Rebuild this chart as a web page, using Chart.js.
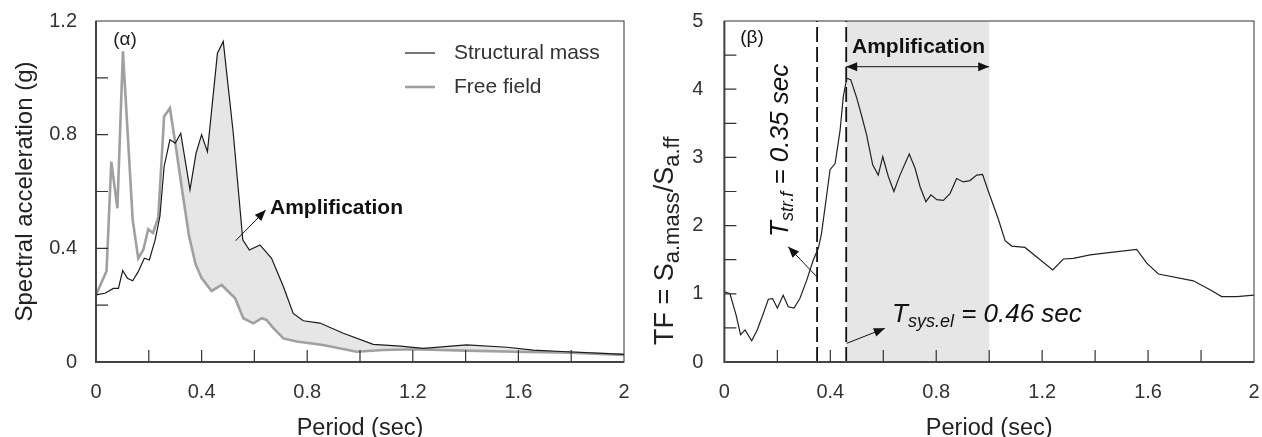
<!DOCTYPE html>
<html>
<head>
<meta charset="utf-8">
<script src="https://cdn.jsdelivr.net/npm/chart.js@4.4.1/dist/chart.umd.min.js"></script>
<style>
  body { margin: 0; background: #fff; }
  #wrap { position: relative; width: 1262px; height: 437px; }
  #left { position: absolute; left: 0; top: 0; }
  #right { position: absolute; left: 640px; top: 0; }
</style>
</head>
<body>
<div id="wrap">
  <canvas id="left" width="640" height="437"></canvas>
  <canvas id="right" width="622" height="437"></canvas>
</div>
<script>
const FONT = "'Liberation Sans', Arial, sans-serif"
Chart.defaults.font.family = FONT

// (a) spectral acceleration, period in sec, Sa in g
const massPeriod = [0.0, 0.034, 0.066, 0.085, 0.101, 0.119, 0.139, 0.160, 0.183, 0.202, 0.224, 0.242, 0.258, 0.280, 0.300, 0.321, 0.356, 0.379, 0.400, 0.422, 0.460, 0.482, 0.520, 0.556, 0.581, 0.621, 0.665, 0.710, 0.747, 0.785, 0.848, 0.937, 1.050, 1.152, 1.240, 1.404, 1.556, 1.656, 1.783, 2.0]
const massSa = [0.236, 0.242, 0.259, 0.259, 0.322, 0.295, 0.286, 0.318, 0.365, 0.359, 0.430, 0.512, 0.688, 0.782, 0.770, 0.805, 0.606, 0.735, 0.800, 0.740, 1.087, 1.128, 0.805, 0.430, 0.394, 0.412, 0.365, 0.265, 0.171, 0.145, 0.137, 0.101, 0.062, 0.056, 0.048, 0.060, 0.052, 0.042, 0.036, 0.027]
const ffPeriod = [0.0, 0.040, 0.058, 0.081, 0.102, 0.139, 0.160, 0.179, 0.198, 0.216, 0.236, 0.258, 0.280, 0.302, 0.327, 0.352, 0.377, 0.400, 0.438, 0.476, 0.527, 0.558, 0.596, 0.628, 0.646, 0.672, 0.710, 0.760, 0.860, 0.987, 1.088, 1.200, 1.400, 1.590, 1.795, 2.0]
const ffSa = [0.236, 0.320, 0.705, 0.541, 1.093, 0.500, 0.365, 0.394, 0.467, 0.454, 0.510, 0.864, 0.893, 0.760, 0.600, 0.445, 0.345, 0.295, 0.250, 0.271, 0.224, 0.154, 0.136, 0.154, 0.148, 0.119, 0.083, 0.072, 0.060, 0.036, 0.042, 0.045, 0.040, 0.036, 0.033, 0.025]

// (b) transfer function
const tfPeriod = [0.0, 0.021, 0.044, 0.061, 0.078, 0.103, 0.124, 0.147, 0.166, 0.182, 0.200, 0.222, 0.241, 0.263, 0.285, 0.311, 0.336, 0.355, 0.367, 0.384, 0.399, 0.418, 0.437, 0.449, 0.462, 0.477, 0.500, 0.519, 0.537, 0.560, 0.581, 0.598, 0.619, 0.640, 0.663, 0.698, 0.720, 0.739, 0.761, 0.780, 0.802, 0.827, 0.852, 0.877, 0.902, 0.927, 0.953, 0.975, 0.997, 1.034, 1.060, 1.085, 1.135, 1.240, 1.280, 1.318, 1.381, 1.444, 1.557, 1.595, 1.639, 1.771, 1.834, 1.878, 1.935, 2.0]
const tfValue = [1.03, 1.00, 0.69, 0.40, 0.47, 0.31, 0.47, 0.71, 0.92, 0.93, 0.79, 0.98, 0.81, 0.79, 0.93, 1.20, 1.50, 1.67, 1.89, 2.38, 2.82, 2.91, 3.40, 3.89, 4.16, 4.14, 3.87, 3.60, 3.33, 2.89, 2.74, 3.01, 2.72, 2.50, 2.74, 3.05, 2.84, 2.57, 2.35, 2.45, 2.38, 2.37, 2.47, 2.69, 2.64, 2.66, 2.74, 2.75, 2.50, 2.10, 1.78, 1.70, 1.68, 1.35, 1.51, 1.52, 1.57, 1.60, 1.65, 1.45, 1.29, 1.19, 1.06, 0.96, 0.96, 0.98]

const tStr = 0.35
const tSys = 0.46
const ampEnd = 1.0

function pts(xs, ys) { return xs.map((x, i) => ({ x: x, y: ys[i] })) }
function fmt(v) { return String(Math.round(v * 10) / 10) }

function head(ctx, x1, y1, x2, y2) {
  const a = Math.atan2(y2 - y1, x2 - x1), L = 11, W = 4.5
  ctx.beginPath()
  ctx.moveTo(x2, y2)
  ctx.lineTo(x2 - L * Math.cos(a) + W * Math.sin(a), y2 - L * Math.sin(a) - W * Math.cos(a))
  ctx.lineTo(x2 - L * Math.cos(a) - W * Math.sin(a), y2 - L * Math.sin(a) + W * Math.cos(a))
  ctx.closePath()
  ctx.fill()
}
function arrow(ctx, x1, y1, x2, y2, both) {
  ctx.beginPath(); ctx.moveTo(x1, y1); ctx.lineTo(x2, y2); ctx.stroke()
  head(ctx, x1, y1, x2, y2)
  if (both) head(ctx, x2, y2, x1, y1)
}
function richText(ctx, parts, x, y, rot) {
  ctx.save()
  ctx.translate(x, y)
  if (rot) ctx.rotate(rot)
  ctx.textBaseline = 'alphabetic'
  ctx.textAlign = 'left'
  let cx = 0
  for (const p of parts) {
    ctx.font = `${p.style || 'normal'} ${p.size}px ${FONT}`
    ctx.fillText(p.t, cx, p.dy || 0)
    cx += ctx.measureText(p.t).width
  }
  ctx.restore()
}

// box, heavier left/bottom axis, inward minor ticks
const frame = {
  id: 'frame',
  afterDatasetsDraw(chart, args, o) {
    const { ctx, chartArea: a, scales: { x, y } } = chart
    ctx.save()
    ctx.strokeStyle = '#333'
    ctx.lineWidth = 1
    ctx.strokeRect(a.left, a.top, a.right - a.left, a.bottom - a.top)
    ctx.lineWidth = 2
    ctx.strokeStyle = '#444'
    ctx.beginPath()
    ctx.moveTo(a.left, a.top); ctx.lineTo(a.left, a.bottom); ctx.lineTo(a.right, a.bottom)
    ctx.stroke()
    ctx.lineWidth = 1.2
    ctx.strokeStyle = '#333'
    ctx.beginPath()
    for (let v = o.xStep; v < x.max - 1e-9; v += o.xStep) {
      const px = x.getPixelForValue(v)
      ctx.moveTo(px, a.bottom); ctx.lineTo(px, a.bottom - o.len)
    }
    for (let v = o.yStep; v < y.max - 1e-9; v += o.yStep) {
      const py = y.getPixelForValue(v)
      ctx.moveTo(a.left, py); ctx.lineTo(a.left + o.len, py)
    }
    ctx.stroke()
    ctx.restore()
  }
}

const leftNotes = {
  id: 'leftNotes',
  afterDraw(chart) {
    const { ctx, chartArea: a, scales: { x, y } } = chart
    ctx.save()
    ctx.fillStyle = '#222'
    ctx.strokeStyle = '#222'
    ctx.textBaseline = 'middle'
    ctx.font = `19px ${FONT}`
    ctx.textAlign = 'center'
    ctx.fillText('(α)', x.getPixelForValue(0.11), y.getPixelForValue(1.134))
    // legend
    ctx.textAlign = 'left'
    ctx.font = `21px ${FONT}`
    chart.data.datasets.forEach((ds, i) => {
      const ly = a.top + 32 + i * 34
      ctx.strokeStyle = ds.borderColor
      ctx.lineWidth = ds.borderWidth
      ctx.beginPath(); ctx.moveTo(a.left + 309, ly); ctx.lineTo(a.left + 339, ly); ctx.stroke()
      ctx.fillStyle = '#333'
      ctx.fillText(ds.label, a.left + 358, ly)
    })
    ctx.fillStyle = '#111'
    ctx.strokeStyle = '#111'
    ctx.lineWidth = 1
    ctx.font = `bold 21px ${FONT}`
    ctx.fillText('Amplification', x.getPixelForValue(0.659), y.getPixelForValue(0.542))
    arrow(ctx, x.getPixelForValue(0.529), y.getPixelForValue(0.427), x.getPixelForValue(0.643), y.getPixelForValue(0.535))
    ctx.restore()
  }
}

const rightNotes = {
  id: 'rightNotes',
  beforeDatasetsDraw(chart) {
    const { ctx, chartArea: a, scales: { x } } = chart
    ctx.save()
    ctx.fillStyle = '#e6e6e6'
    const x0 = x.getPixelForValue(tSys), x1 = x.getPixelForValue(ampEnd)
    ctx.fillRect(x0, a.top, x1 - x0, a.bottom - a.top)
    ctx.restore()
  },
  afterDraw(chart) {
    const { ctx, chartArea: a, scales: { x, y } } = chart
    ctx.save()
    ctx.fillStyle = '#111'
    ctx.strokeStyle = '#111'
    ctx.lineWidth = 1
    ctx.textBaseline = 'middle'
    ctx.textAlign = 'center'
    ctx.font = `19px ${FONT}`
    ctx.fillText('(β)', x.getPixelForValue(0.104), y.getPixelForValue(4.75))
    ctx.textAlign = 'left'
    ctx.font = `bold 21px ${FONT}`
    ctx.fillText('Amplification', x.getPixelForValue(0.482), y.getPixelForValue(4.62))
    arrow(ctx, x.getPixelForValue(tSys), y.getPixelForValue(4.33), x.getPixelForValue(ampEnd), y.getPixelForValue(4.33), true)

    richText(ctx, [
      { t: 'T', size: 26, style: 'italic' },
      { t: 'str.f', size: 18, style: 'italic', dy: 5 },
      { t: ' = 0.35 sec', size: 26, style: 'italic' }
    ], x.getPixelForValue(0.24), y.getPixelForValue(1.833), -Math.PI / 2)
    arrow(ctx, x.getPixelForValue(0.349), y.getPixelForValue(1.25), x.getPixelForValue(0.241), y.getPixelForValue(1.69))

    richText(ctx, [
      { t: 'T', size: 26, style: 'italic' },
      { t: 'sys.el', size: 18, style: 'italic', dy: 5 },
      { t: ' = 0.46 sec', size: 26, style: 'italic' }
    ], x.getPixelForValue(0.633), y.getPixelForValue(0.587))
    arrow(ctx, x.getPixelForValue(0.462), y.getPixelForValue(0.274), x.getPixelForValue(0.606), y.getPixelForValue(0.494))

    // y axis title with subscripts
    ctx.fillStyle = '#222'
    richText(ctx, [
      { t: 'TF = S', size: 27 },
      { t: 'a.mass', size: 22, dy: 6 },
      { t: '/S', size: 27 },
      { t: 'a.ff', size: 22, dy: 6 }
    ], a.left - 51.4, a.bottom - 17, -Math.PI / 2)
    ctx.restore()
  }
}

const tickFont = { size: 20, lineHeight: 1 }

// tickLength gives the label gap; ticks.padding would also pad the plot edges
function xScale() {
  return {
    type: 'linear', min: 0, max: 2,
    grid: { display: false, drawTicks: true, tickLength: 20 },
    border: { display: false },
    ticks: { stepSize: 0.4, padding: 0, font: tickFont, color: '#333', callback: fmt },
    title: { display: true, text: 'Period (sec)', color: '#222', font: { size: 23.5, lineHeight: 0.76 }, padding: 0 },
    afterFit(s) { s.height = 75 }
  }
}

new Chart(document.getElementById('left'), {
  type: 'line',
  data: {
    datasets: [{
      label: 'Structural mass',
      data: pts(massPeriod, massSa),
      borderColor: '#1a1a1a',
      borderWidth: 1.2,
      fill: { target: 1, above: '#e6e6e6', below: 'rgba(0,0,0,0)' }
    }, {
      label: 'Free field',
      data: pts(ffPeriod, ffSa),
      borderColor: '#a0a0a0',
      borderWidth: 2.6,
      fill: false
    }]
  },
  options: {
    responsive: false,
    animation: false,
    events: [],
    layout: { padding: { left: 0, right: 16, top: 21, bottom: 0 } },
    elements: { point: { radius: 0 }, line: { tension: 0 } },
    plugins: {
      legend: { display: false },
      tooltip: { enabled: false },
      filler: { drawTime: 'beforeDatasetsDraw' },
      frame: { xStep: 0.2, yStep: 0.2, len: 12 }
    },
    scales: {
      x: xScale(),
      y: {
        min: 0, max: 1.2,
        grid: { display: false, drawTicks: true, tickLength: 19 },
        border: { display: false },
        ticks: { stepSize: 0.4, padding: 0, font: tickFont, color: '#333', callback: fmt },
        title: { display: true, text: 'Spectral acceleration (g)', color: '#222', font: { size: 24, lineHeight: 1.2 }, padding: { top: 10.6 } },
        afterFit(s) { s.width = 96 }
      }
    }
  },
  plugins: [frame, leftNotes]
})

new Chart(document.getElementById('right'), {
  type: 'line',
  data: {
    datasets: [{
      label: 'TF',
      data: pts(tfPeriod, tfValue),
      borderColor: '#222',
      borderWidth: 1.2,
      fill: false
    }, {
      label: 'T str.f',
      data: [{ x: tStr, y: 0 }, { x: tStr, y: 5 }],
      borderColor: '#111',
      borderWidth: 1.8,
      borderDash: [15, 5],
      fill: false
    }, {
      label: 'T sys.el',
      data: [{ x: tSys, y: 0 }, { x: tSys, y: 5 }],
      borderColor: '#111',
      borderWidth: 1.8,
      borderDash: [15, 5],
      fill: false
    }]
  },
  options: {
    responsive: false,
    animation: false,
    events: [],
    layout: { padding: { left: 0, right: 8, top: 21, bottom: 0 } },
    elements: { point: { radius: 0 }, line: { tension: 0 } },
    plugins: {
      legend: { display: false },
      tooltip: { enabled: false },
      frame: { xStep: 0.2, yStep: 0.5, len: 12 }
    },
    scales: {
      x: xScale(),
      y: {
        min: 0, max: 5,
        grid: { display: false, drawTicks: true, tickLength: 21 },
        border: { display: false },
        ticks: { stepSize: 1, padding: 0, font: tickFont, color: '#333', callback: fmt },
        afterFit(s) { s.width = 84.4 }
      }
    }
  },
  plugins: [frame, rightNotes]
})
</script>
</body>
</html>
